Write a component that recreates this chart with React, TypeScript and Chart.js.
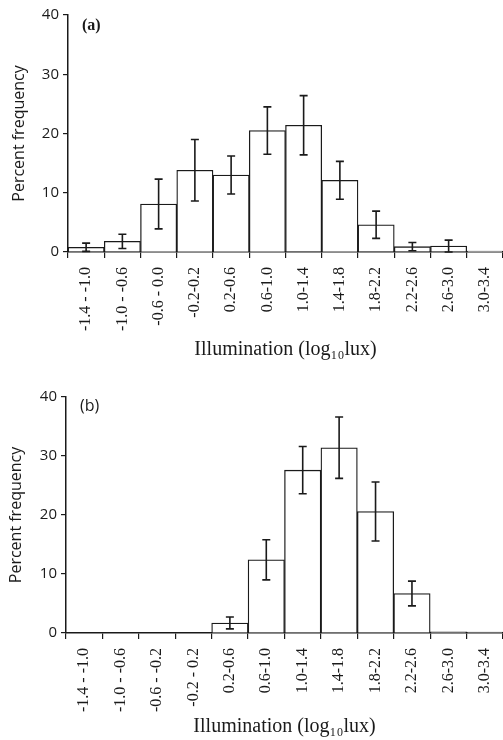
import React, { useEffect, useRef } from "react";
import { Chart, registerables } from "chart.js";

Chart.register(...registerables);

// ---- Data ----
const categoriesA = [
  "-1.4 - -1.0", "-1.0 - -0.6", "-0.6 - 0.0", "-0.2-0.2", "0.2-0.6", "0.6-1.0",
  "1.0-1.4", "1.4-1.8", "1.8-2.2", "2.2-2.6", "2.6-3.0", "3.0-3.4",
];
const categoriesB = [
  "-1.4 - -1.0", "-1.0 - -0.6", "-0.6 - -0.2", "-0.2 - 0.2", "0.2-0.6", "0.6-1.0",
  "1.0-1.4", "1.4-1.8", "1.8-2.2", "2.2-2.6", "2.6-3.0", "3.0-3.4",
];
const valuesA = [0.8, 1.8, 8.1, 13.8, 13.0, 20.5, 21.4, 12.1, 4.6, 0.9, 1.0, 0.15];
const errorsA = [0.7, 1.2, 4.2, 5.2, 3.2, 4.0, 5.0, 3.2, 2.3, 0.7, 1.0, 0];
const valuesB = [0, 0, 0, 0, 1.7, 12.4, 27.6, 31.4, 20.6, 6.7, 0.2, 0.15];
const errorsB = [0, 0, 0, 0, 1.0, 3.4, 4.0, 5.2, 5.0, 2.1, 0, 0];
const yMin = 0;
const yMax = 40;
const yStep = 10;
const yTitle = "Percent frequency";
const xTitle = "Illumination (log\u2081\u2080lux)";

const INK = "#1a1a1a";

const errorBarPlugin = {
  id: "errorBars",
  afterDatasetsDraw(chart: any, _args: any, opts: any) {
    const errs: number[] = opts.errors || [];
    const meta = chart.getDatasetMeta(0);
    const y = chart.scales.y;
    const data = chart.data.datasets[0].data as number[];
    const ctx = chart.ctx;
    ctx.save();
    ctx.strokeStyle = INK;
    ctx.lineWidth = 1.6;
    meta.data.forEach((bar: any, i: number) => {
      const e = errs[i];
      if (!e) return;
      const v = data[i];
      const top = y.getPixelForValue(v + e);
      const bot = y.getPixelForValue(Math.max(0, v - e));
      const x = bar.x;
      const cw = 4;
      ctx.beginPath();
      ctx.moveTo(x, top);
      ctx.lineTo(x, bot);
      ctx.moveTo(x - cw, top);
      ctx.lineTo(x + cw, top);
      ctx.moveTo(x - cw, bot);
      ctx.lineTo(x + cw, bot);
      ctx.stroke();
    });
    ctx.restore();
  },
};

const panelLabelPlugin = {
  id: "panelLabel",
  afterDraw(chart: any, _args: any, opts: any) {
    if (!opts.text) return;
    const ctx = chart.ctx;
    const ca = chart.chartArea;
    ctx.save();
    ctx.fillStyle = INK;
    ctx.font = opts.font;
    ctx.textAlign = "left";
    ctx.textBaseline = "middle";
    ctx.fillText(opts.text, ca.left + opts.dx, ca.top + opts.dy);
    ctx.restore();
  },
};

type PanelProps = {
  categories: string[];
  values: number[];
  errors: number[];
  label: string;
  labelFont: string;
  labelDy: number;
  padTop: number;
  yWidth: number;
  yTitlePad: number;
  xHeight: number;
  xTitlePad: number;
};

function Panel(p: PanelProps) {
  const ref = useRef<HTMLCanvasElement | null>(null);
  useEffect(() => {
    if (!ref.current) return;
    const chart = new Chart(ref.current, {
      type: "bar",
      data: {
        labels: p.categories,
        datasets: [
          {
            data: p.values,
            backgroundColor: "#ffffff",
            borderColor: INK,
            borderWidth: 1.3,
            barPercentage: 1,
            categoryPercentage: 1,
          },
        ],
      },
      options: {
        responsive: false,
        maintainAspectRatio: false,
        animation: false,
        layout: { padding: { top: p.padTop, left: 0, right: 0, bottom: 0 } },
        plugins: {
          legend: { display: false },
          tooltip: { enabled: false },
          errorBars: { errors: p.errors },
          panelLabel: { text: p.label, font: p.labelFont, dx: 14, dy: p.labelDy },
        } as any,
        scales: {
          x: {
            ticks: {
              maxRotation: 90,
              minRotation: 90,
              autoSkip: false,
              color: INK,
              padding: 9,
              font: { family: "Liberation Serif", size: 16 },
            },
            grid: {
              drawOnChartArea: false,
              drawTicks: true,
              tickLength: 6,
              color: INK,
              lineWidth: 1.2,
              offset: true,
            },
            border: { display: true, color: INK, width: 1.5 },
            title: {
              display: true,
              text: xTitle,
              color: INK,
              font: { family: "Liberation Serif", size: 20 },
              padding: { top: 0, bottom: p.xTitlePad },
            },
            afterFit(s: any) {
              s.height = p.xHeight;
              s.paddingLeft = 0;
              s.paddingRight = 0;
            },
          },
          y: {
            min: yMin,
            max: yMax,
            ticks: {
              stepSize: yStep,
              color: INK,
              padding: 4,
              font: { family: "Open Sans", size: 15 },
            },
            grid: {
              drawOnChartArea: false,
              drawTicks: true,
              tickLength: 5,
              color: INK,
              lineWidth: 1.2,
            },
            border: { display: true, color: INK, width: 1.5 },
            title: {
              display: true,
              text: yTitle,
              color: INK,
              font: { family: "Open Sans", size: 16 },
              padding: { top: p.yTitlePad, bottom: 0 },
            },
            afterFit(s: any) {
              s.width = p.yWidth;
            },
          },
        },
      } as any,
      plugins: [errorBarPlugin, panelLabelPlugin],
    });
    return () => chart.destroy();
  }, []);
  return (
    <div style={{ width: 503, height: 370, position: "relative" }}>
      <canvas ref={ref} width={503} height={370} style={{ display: "block" }} />
    </div>
  );
}

export default function App() {
  return (
    <div
      style={{
        position: "absolute",
        left: 0,
        top: 0,
        width: 503,
        height: 740,
        background: "#fff",
      }}
    >
      <Panel
        categories={categoriesA}
        values={valuesA}
        errors={errorsA}
        label="(a)"
        labelFont="bold 16px 'Liberation Serif'"
        labelDy={11}
        padTop={15}
        yWidth={68}
        yTitlePad={10}
        xHeight={118}
        xTitlePad={8}
      />
      <Panel
        categories={categoriesB}
        values={valuesB}
        errors={errorsB}
        label="(b)"
        labelFont="16px 'Open Sans'"
        labelDy={9}
        padTop={27}
        yWidth={66}
        yTitlePad={7}
        xHeight={107}
        xTitlePad={1}
      />
    </div>
  );
}
